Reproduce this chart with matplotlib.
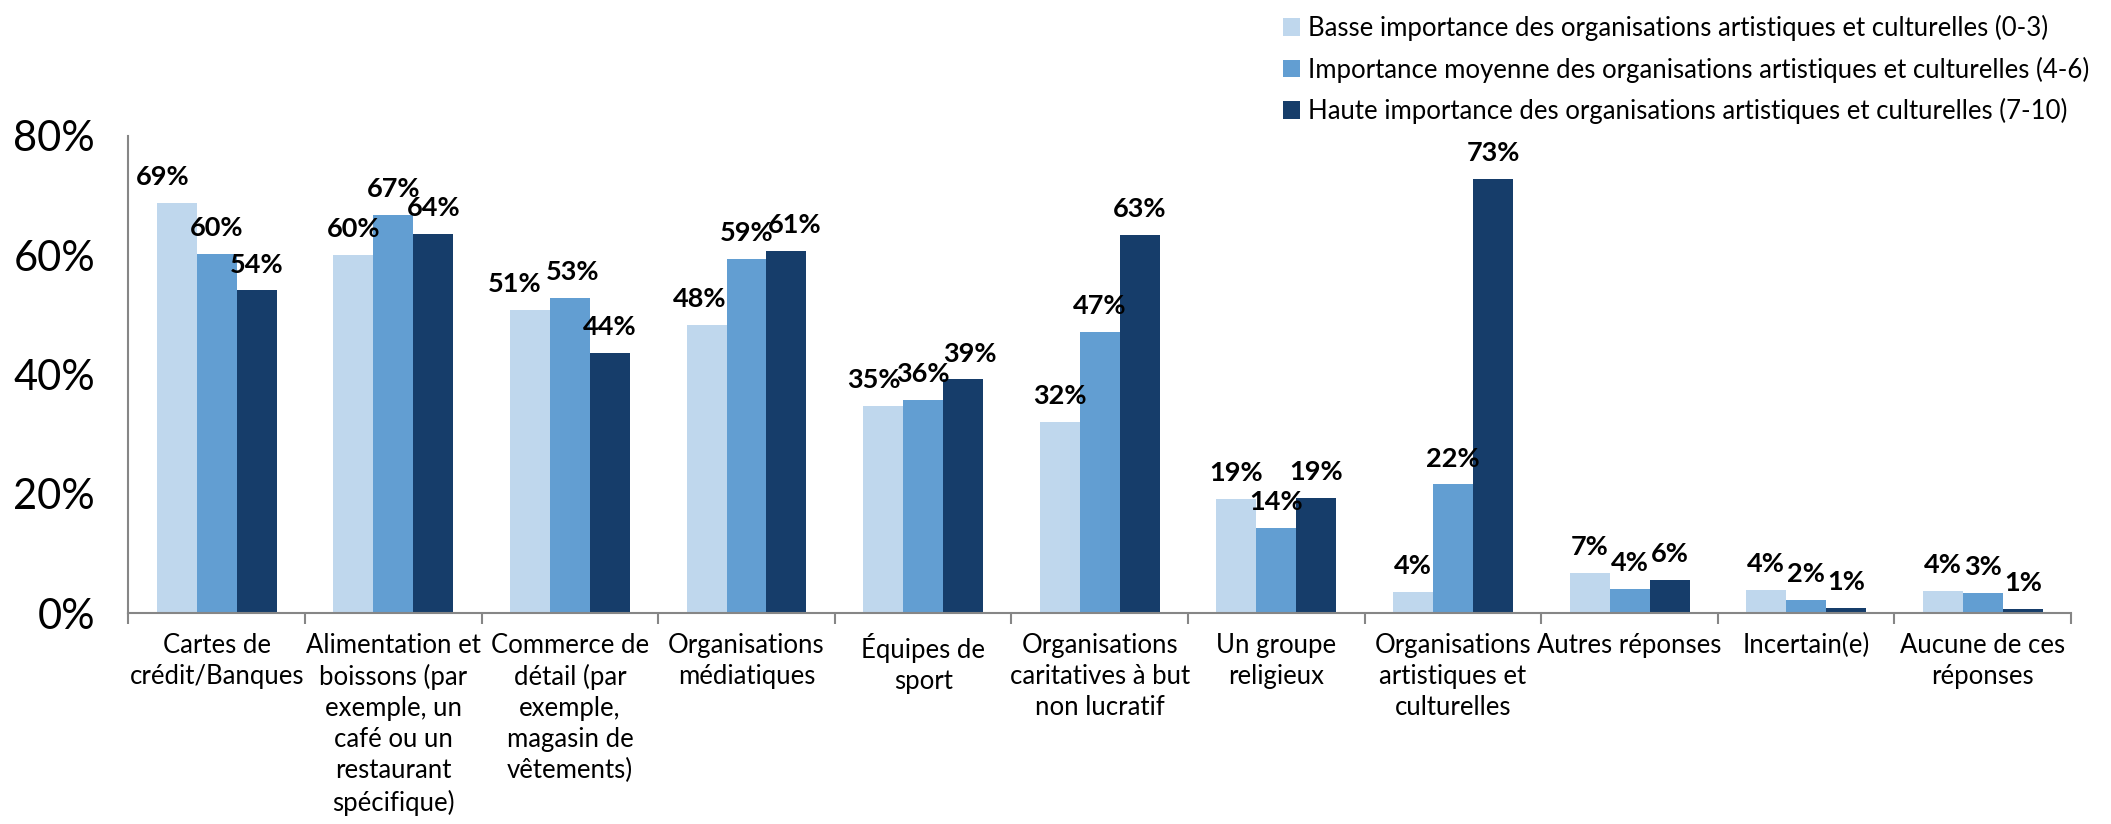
import matplotlib
matplotlib.use("Agg")
import matplotlib.pyplot as plt
import numpy as np
from matplotlib.ticker import FixedLocator, PercentFormatter

categories = [
    "Cartes de\ncrédit/Banques",
    "Alimentation et\nboissons (par\nexemple, un\ncafé ou un\nrestaurant\nspécifique)",
    "Commerce de\ndétail (par\nexemple,\nmagasin de\nvêtements)",
    "Organisations\nmédiatiques",
    "Équipes de\nsport",
    "Organisations\ncaritatives à but\nnon lucratif",
    "Un groupe\nreligieux",
    "Organisations\nartistiques et\nculturelles",
    "Autres réponses",
    "Incertain(e)",
    "Aucune de ces\nréponses",
]
series_names = [
    "Basse importance des organisations artistiques et culturelles (0-3)",
    "Importance moyenne des organisations artistiques et culturelles (4-6)",
    "Haute importance des organisations artistiques et culturelles (7-10)",
]
low = [68.8, 60.1, 50.9, 48.4, 34.8, 32.0, 19.2, 3.6, 6.8, 3.9, 3.7]
mid = [60.3, 66.8, 52.8, 59.4, 35.8, 47.2, 14.3, 21.6, 4.1, 2.3, 3.4]
high = [54.1, 63.6, 43.7, 60.8, 39.2, 63.4, 19.3, 72.8, 5.6, 0.9, 0.7]
series = [low, mid, high]
colors = ["#BFD7ED", "#629ED2", "#163D6A"]
yticks = [0, 20, 40, 60, 80]

# small horizontal nudges (points) for crowded data labels, as in the original
label_nudge = {(0, 0): -10, (0, 2): -11, (1, 2): 2, (0, 3): -5, (2, 3): 6,
               (0, 4): -7, (2, 4): 5}

plt.rcParams['font.family'] = ['Lato', 'DejaVu Sans']

fig = plt.figure(figsize=(21.11, 8.24), dpi=100)
ax = fig.add_axes([0.0608, 0.2557, 0.9203, 0.5793])

n = len(categories)
x = np.arange(n)
bw = 0.2264
for i, (vals, col, name) in enumerate(zip(series, colors, series_names)):
    pos = x + (i - 1) * bw
    bars = ax.bar(pos, vals, width=bw, color=col, label=name, zorder=2)
    for j, (b, v) in enumerate(zip(bars, vals)):
        ax.annotate(f"{round(v):d}%", (b.get_x() + b.get_width() / 2, v),
                    xytext=(label_nudge.get((i, j), 0), 10), textcoords="offset points",
                    ha="center", va="bottom", fontsize=19.5, fontweight="bold",
                    color="#000000")

ax.set_xlim(-0.5, n - 0.5)
ax.set_ylim(0, 80)
ax.set_yticks(yticks)
ax.yaxis.set_major_formatter(PercentFormatter(decimals=0))
ax.tick_params(axis='y', length=0, labelsize=30, pad=24)
ax.set_xticks(x)
ax.set_xticklabels(categories, fontsize=18.5, linespacing=1.3)
ax.tick_params(axis='x', which='major', length=0, pad=14)
ax.xaxis.set_minor_locator(FixedLocator(np.arange(-0.5, n, 1.0)))
ax.tick_params(axis='x', which='minor', length=8, width=1.5, color="#868686", direction='out')

for s in ['top', 'right']:
    ax.spines[s].set_visible(False)
for s in ['left', 'bottom']:
    ax.spines[s].set_color("#868686")
    ax.spines[s].set_linewidth(1.5)

leg = fig.legend(loc="upper left", bbox_to_anchor=(0.597, 1.01), frameon=False,
                 fontsize=18.5, handlelength=0.65, handleheight=0.65,
                 handletextpad=0.3, labelspacing=0.6)

fig.savefig("out.png", dpi=100)
